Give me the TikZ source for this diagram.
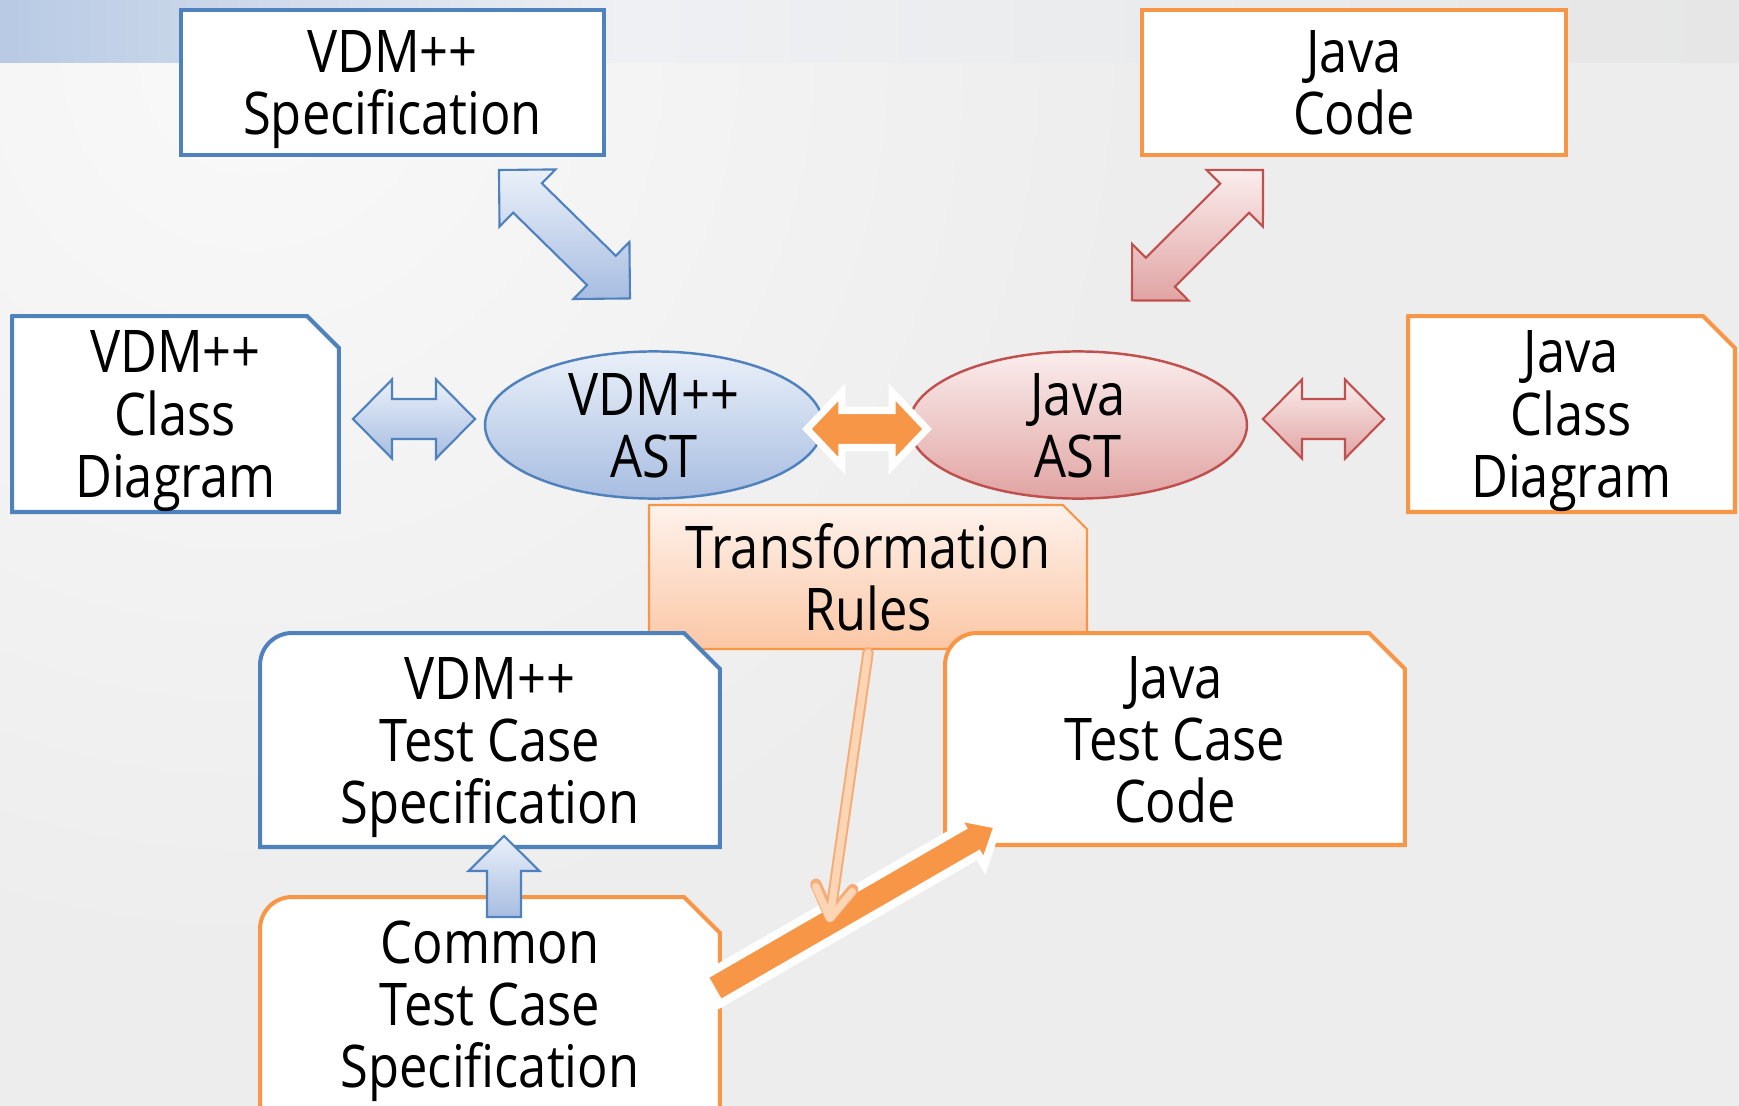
\documentclass[tikz,border=0pt]{standalone}
\usepackage{fontspec}
\setmainfont{Open Sans}[FakeStretch=0.86]
\usetikzlibrary{arrows.meta,calc,shapes.geometric}
\definecolor{VdmBlue}{HTML}{4F81BD}
\definecolor{VdmLight}{HTML}{EAF0F9}
\definecolor{VdmDark}{HTML}{A7BDE1}
\definecolor{JavaOrange}{HTML}{F79646}
\definecolor{JavaRed}{HTML}{C0504D}
\definecolor{RedLight}{HTML}{FBEDED}
\definecolor{RedDark}{HTML}{E0A4A3}
\definecolor{RuleTop}{HTML}{FEF2EC}
\definecolor{RuleBot}{HTML}{FBC7A5}
\definecolor{PeachDark}{HTML}{F5AC77}
\definecolor{PeachLight}{HTML}{FCD5B5}
\definecolor{BgGray}{HTML}{EDEDED}
\definecolor{BgLight}{HTML}{F9F9F9}
\definecolor{BandBlue}{HTML}{B8CAE4}
\definecolor{BandMid}{HTML}{EEF0F3}
\definecolor{BandGray}{HTML}{E6E6E6}
\pgfdeclarelayer{back}
\pgfdeclarelayer{frames}
\pgfsetlayers{back,frames,main}
\newcommand\boxfont{\fontsize{33.5}{35.3}\selectfont}
% outline with a snipped top right corner (and a round top left one)
\newcommand\snipframe[4][]{%
  \draw[#1] (#2.south west) -- ([yshift=-#4]#2.north west)
    arc[start angle=180, end angle=90, radius=#4]
    -- ([xshift=-#3]#2.north east) -- ([yshift=-#3]#2.north east)
    -- (#2.south east) -- cycle;}
% block arrows: style, from, to, head length, head half width, shaft half width
\newcommand\twoheaded[6][]{%
  \draw[#1] (#2)
    -- ($(#2)!#4!(#3)!#5!90:(#3)$) -- ($(#2)!#4!(#3)!#6!90:(#3)$)
    -- ($(#3)!#4!(#2)!#6!-90:(#2)$) -- ($(#3)!#4!(#2)!#5!-90:(#2)$)
    -- (#3)
    -- ($(#3)!#4!(#2)!#5!90:(#2)$) -- ($(#3)!#4!(#2)!#6!90:(#2)$)
    -- ($(#2)!#4!(#3)!#6!-90:(#3)$) -- ($(#2)!#4!(#3)!#5!-90:(#3)$)
    -- cycle;}
\newcommand\oneheaded[6][]{%
  \draw[#1] ($(#2)!#6!90:(#3)$)
    -- ($(#3)!#4!(#2)!#6!-90:(#2)$) -- ($(#3)!#4!(#2)!#5!-90:(#2)$)
    -- (#3)
    -- ($(#3)!#4!(#2)!#5!90:(#2)$) -- ($(#3)!#4!(#2)!#6!90:(#2)$)
    -- ($(#2)!#6!-90:(#3)$) -- cycle;}
\tikzset{
  boxtext/.style={inner sep=0pt,outer sep=0pt,align=center,font=\boxfont,text depth=0pt},
  vdmbox/.style={boxtext,draw=VdmBlue,fill=white,line width=2.3pt},
  javabox/.style={boxtext,draw=JavaOrange,fill=white,line width=2.3pt},
  vdmframe/.style={draw=VdmBlue,fill=white,line width=2.3pt},
  javaframe/.style={draw=JavaOrange,fill=white,line width=2.3pt},
  ruleframe/.style={draw=JavaOrange,line width=1.2pt,top color=RuleTop,bottom color=RuleBot},
  astoval/.style={ellipse,boxtext,minimum width=6.76cm,minimum height=2.88cm,line width=1.4pt},
  vdmoval/.style={astoval,draw=VdmBlue,top color=VdmLight,bottom color=VdmDark},
  javaoval/.style={astoval,draw=JavaRed,top color=RedLight,bottom color=RedDark},
  vdmlink/.style={draw=VdmBlue,line width=1.2pt,top color=VdmLight,bottom color=VdmDark},
  javalink/.style={draw=JavaRed,line width=1.2pt,top color=RedLight,bottom color=RedDark},
  genlink/.style={draw=white,line width=4pt,fill=JavaOrange},
  ruleedge/.style={line cap=round,-{Straight Barb[round,length=0.6cm,width=0.74cm]}},
}

\begin{document}
\begin{tikzpicture}[x=0.02cm,y=-0.02cm]
  \useasboundingbox (0,0) rectangle (1739,1106);
  \begin{pgfonlayer}{back}
    \fill[BgGray] (0,0) rectangle (1739,1106);
    \shade[inner color=BgLight,outer color=BgGray] (250,62) circle[radius=900];
    \shade[left color=BandBlue,right color=BandMid] (0,0) rectangle (620,62);
    \shade[left color=BandMid,right color=BandGray] (620,0) rectangle (1739,62);
  \end{pgfonlayer}

  % top row
  \node[vdmbox,minimum width=8.46cm,minimum height=2.9cm] (vspec) at (392.5,82.5) {VDM++\\Specification};
  \node[javabox,minimum width=8.48cm,minimum height=2.9cm] (jcode) at (1354,82.5) {Java\\Code};

  % middle row
  \node[boxtext,minimum width=6.54cm,minimum height=3.92cm] (vcd) at (175.5,414) {VDM++\\Class\\Diagram};
  \node[vdmoval] (vast) at (654,425) {VDM++\\AST};
  \node[javaoval] (jast) at (1078,425) {Java\\AST};
  \node[boxtext,minimum width=6.54cm,minimum height=3.92cm] (jcd) at (1571.5,414) {Java\\Class\\Diagram};
  \node[boxtext,minimum width=8.76cm,minimum height=2.88cm] (trans) at (868,577) {Transformation\\Rules};

  % test cases
  \node[boxtext,minimum width=9.2cm,minimum height=4.28cm] (vtest) at (490,740) {VDM++\\Test Case\\Specification};
  \node[boxtext,minimum width=9.2cm,minimum height=4.24cm] (jtest) at (1175,739) {Java\\Test Case\\Code};
  \node[boxtext,minimum width=9.2cm,minimum height=4.28cm] (common) at (490,1004) {Common\\Test Case\\Specification};

  \begin{pgfonlayer}{frames}
    \snipframe[vdmframe]{vcd}{0.64cm}{0.01pt}
    \snipframe[javaframe]{jcd}{0.64cm}{0.01pt}
    \snipframe[ruleframe]{trans}{0.48cm}{0.01pt}
    \snipframe[vdmframe]{vtest}{0.72cm}{0.64cm}
    \snipframe[javaframe]{jtest}{0.72cm}{0.64cm}
    \snipframe[javaframe]{common}{0.72cm}{0.64cm}
  \end{pgfonlayer}

  % arrow ends
  \coordinate (s1a) at ($(vspec.south east)+(-105,15)$);
  \coordinate (s1b) at ($(vast.north)+(-24,-53)$);
  \coordinate (c1a) at ($(jcode.south west)+(121,15)$);
  \coordinate (c1b) at ($(jast.north)+(54,-51)$);
  \coordinate (d1a) at ($(vcd.east)+(14,5)$);
  \coordinate (d1b) at ($(vast.west)+(-10,-6)$);
  \coordinate (d2a) at ($(jast.east)+(16,-6)$);
  \coordinate (d2b) at ($(jcd.west)+(-24,5)$);
  \coordinate (t1a) at ($(vast.east)+(-16,4)$);
  \coordinate (t1b) at ($(jast.west)+(18,4)$);
  \coordinate (u1a) at ($(common.north)+(14,20)$);
  \coordinate (u1b) at ($(vtest.south)+(14,-11)$);
  \coordinate (g1a) at ($(common.north east)+(-8,93)$);
  \coordinate (g1b) at ($(jtest.south west)+(53,-20)$);
  \coordinate (g1m) at ($(g1a)!0.41!(g1b)$);
  \coordinate (r1a) at ($(trans.south)+(0,4)$);

  \twoheaded[vdmlink]{s1a}{s1b}{0.8cm}{0.8cm}{0.41cm}
  \twoheaded[javalink]{c1a}{c1b}{0.8cm}{0.8cm}{0.41cm}
  \twoheaded[vdmlink]{d1a}{d1b}{0.78cm}{0.79cm}{0.4cm}
  \twoheaded[javalink]{d2a}{d2b}{0.78cm}{0.79cm}{0.4cm}
  \twoheaded[genlink]{t1a}{t1b}{0.7cm}{0.74cm}{0.37cm}
  \oneheaded[vdmlink]{u1a}{u1b}{0.7cm}{0.71cm}{0.34cm}
  \oneheaded[genlink,line width=4.5pt]{g1a}{g1b}{0.64cm}{0.56cm}{0.32cm}

  \draw[ruleedge,PeachDark,line width=6.5pt] (r1a) -- (g1m);
  \draw[ruleedge,PeachLight,line width=4.2pt] (r1a) -- (g1m);
\end{tikzpicture}
\end{document}
